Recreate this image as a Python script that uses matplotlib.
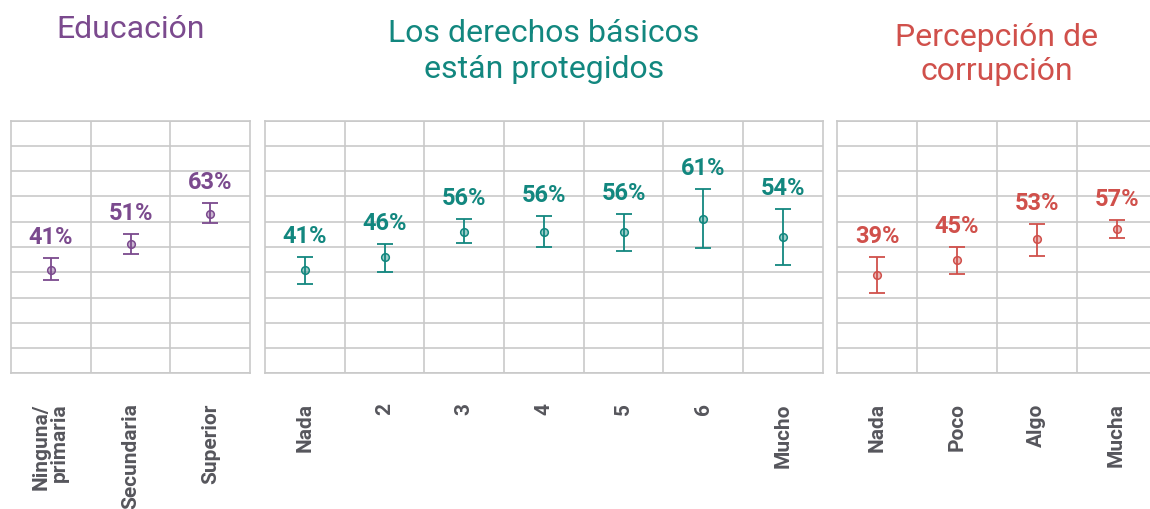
#Goal: three panels of point estimates with error bars (percent), one panel per factor
import matplotlib
matplotlib.use("Agg")
import matplotlib.pyplot as plt
import numpy as np
from matplotlib import rcParams

rcParams['font.family'] = ['Roboto', 'DejaVu Sans']

#data
edu_cats = ['Ninguna/\nprimaria', 'Secundaria', 'Superior']
edu_vals = [41, 51, 63]
edu_low = [37.1, 47.1, 59.4]
edu_high = [45.5, 55.0, 67.4]

der_cats = ['Nada', '2', '3', '4', '5', '6', 'Mucho']
der_vals = [41, 46, 56, 56, 56, 61, 54]
der_low = [35.5, 40.2, 51.5, 49.9, 48.3, 49.6, 42.8]
der_high = [46.2, 51.2, 61.2, 62.3, 63.2, 73.0, 65.2]

cor_cats = ['Nada', 'Poco', 'Algo', 'Mucha']
cor_vals = [39, 45, 53, 57]
cor_low = [31.8, 39.3, 46.4, 53.7]
cor_high = [46.2, 50.1, 59.2, 60.7]

titles = [['Educación'],
          ['Los derechos básicos', 'están protegidos'],
          ['Percepción de', 'corrupción']]
colors = ['#7b4a8e', '#12877f', '#d0504b']

W, H = 1150, 509
fig = plt.figure(figsize=(W / 100, H / 100), dpi=100)

grid_col = '#c9c9c9'
tick_col = '#56565c'

# panel boxes in pixels: left, width
boxes = [(10.7, 239.6), (265.0, 557.7), (837.3, 319.2)]
top_px, bot_px = 120.7, 373.3
# title baselines in pixels
title_base = [[38.5], [42.5, 78.0], [46.0, 80.5]]

panels = [(edu_cats, edu_vals, edu_low, edu_high),
          (der_cats, der_vals, der_low, der_high),
          (cor_cats, cor_vals, cor_low, cor_high)]

for i, (cats, vals, low, high) in enumerate(panels):
    left, width = boxes[i]
    ax = fig.add_axes([left / W, (H - bot_px) / H, width / W, (bot_px - top_px) / H])
    col = colors[i]
    n = len(cats)
    x = np.arange(n)
    vals = np.array(vals, dtype=float)
    yerr = [vals - np.array(low), np.array(high) - vals]

    ax.errorbar(x, vals, yerr=yerr, fmt='none', ecolor=col, elinewidth=1.3,
                capsize=5.7, capthick=1.3, zorder=3)
    ax.plot(x, vals, 'o', markersize=5.5, markerfacecolor=col + '66',
            markeredgecolor=col, markeredgewidth=1.1, zorder=4)

    for xi, v, h in zip(x, vals, high):
        ax.annotate(f"{v:.0f}%", (xi, h), xytext=(0, 10), textcoords='offset points',
                    ha='center', va='baseline', fontsize=17, fontweight='bold', color=col)

    ax.set_xlim(-0.5, n - 0.5)
    ax.set_ylim(0, 100)
    ax.set_yticks(np.arange(0, 101, 10))
    ax.set_yticklabels([])
    ax.tick_params(axis='y', length=0)
    ax.grid(axis='y', color=grid_col, linewidth=1.2)
    for b in np.arange(0.5, n - 0.5, 1):
        ax.axvline(b, color=grid_col, linewidth=1.2, zorder=1)
    ax.set_axisbelow(True)
    for s in ax.spines.values():
        s.set_color(grid_col)
        s.set_linewidth(1.2)

    ax.set_xticks(x)
    ax.set_xticklabels(cats, rotation=90, ha='center', va='top', multialignment='right',
                       fontsize=15, fontweight='bold', color=tick_col, linespacing=0.95)
    ax.tick_params(axis='x', length=0, pad=21.5)

    cx = (left + width / 2) / W
    if i == 2:
        cx = (left + 159.5) / W
    for line, yb in zip(titles[i], title_base[i]):
        fig.text(cx, 1 - yb / H, line, ha='center', va='baseline', fontsize=23, color=col)

fig.savefig('out.png', dpi=100)
